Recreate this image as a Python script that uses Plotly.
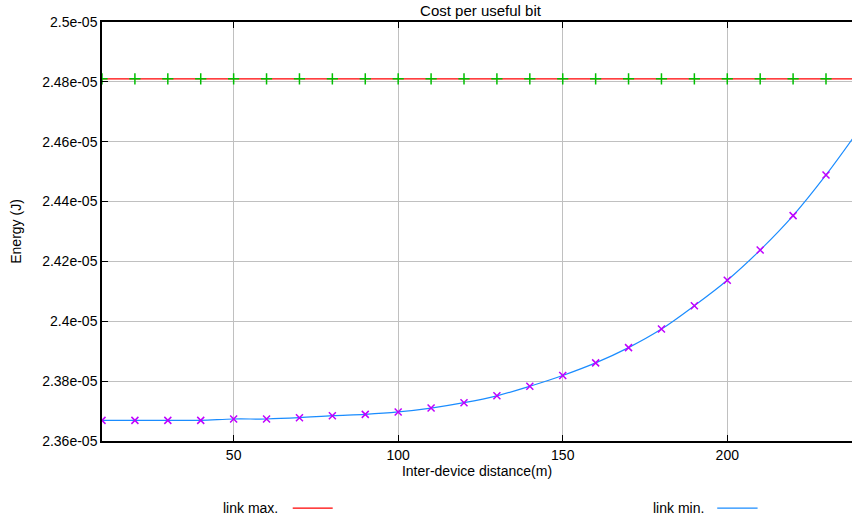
import plotly.graph_objects as go

# ---- data ----
distance = [10, 20, 30, 40, 50, 60, 70, 80, 90, 100, 110, 120, 130, 140, 150,
            160, 170, 180, 190, 200, 210, 220, 230, 240]
link_max = [2.4810e-05] * len(distance)
link_min = [2.3669e-05, 2.3669e-05, 2.3669e-05, 2.3669e-05, 2.36735e-05, 2.36735e-05,
            2.36778e-05, 2.36845e-05, 2.3689e-05, 2.3697e-05, 2.3710e-05, 2.3728e-05,
            2.3751e-05, 2.3783e-05, 2.3819e-05, 2.3861e-05, 2.3912e-05, 2.3974e-05,
            2.4052e-05, 2.4137e-05, 2.4238e-05, 2.4353e-05, 2.4489e-05, 2.4640e-05]
y_ticks = [2.36e-05, 2.38e-05, 2.40e-05, 2.42e-05, 2.44e-05, 2.46e-05, 2.48e-05, 2.50e-05]
y_tick_labels = ["2.36e-05", "2.38e-05", "2.4e-05", "2.42e-05", "2.44e-05",
                 "2.46e-05", "2.48e-05", "2.5e-05"]
x_ticks = [50, 100, 150, 200]
series_names = ["link max.", "link min."]

FONT = "Liberation Sans, Arial, Helvetica, sans-serif"
RED = "#ff0000"
GREEN = "#00c000"
BLUE = "#1a8cff"
MAGENTA = "#c000ff"

fig = go.Figure()
fig.add_trace(go.Scatter(x=distance, y=link_max, mode="lines",
                         line=dict(color=RED, width=1.2), showlegend=False))
fig.add_trace(go.Scatter(x=distance, y=link_max, mode="markers",
                         marker=dict(symbol="cross-thin", size=8,
                                     line=dict(color=GREEN, width=1.5)),
                         showlegend=False))
fig.add_trace(go.Scatter(x=distance, y=link_min, mode="lines",
                         line=dict(color=BLUE, width=1.2, shape="spline", smoothing=1),
                         showlegend=False))
fig.add_trace(go.Scatter(x=distance, y=link_min, mode="markers",
                         marker=dict(symbol="x-thin", size=7,
                                     line=dict(color=MAGENTA, width=1.5)),
                         showlegend=False))

# custom gnuplot-style key (text then line sample)
key = [(series_names[0], 0.2373, 0.2543, 0.3076, RED),
       (series_names[1], 0.8053, 0.8203, 0.8741, BLUE)]
for name, tx, lx0, lx1, col in key:
    fig.add_annotation(x=tx, y=-0.16, xref="paper", yref="paper", text=name,
                       showarrow=False, xanchor="right", yanchor="middle",
                       font=dict(family=FONT, size=14, color="#000"))
    fig.add_shape(type="line", xref="paper", yref="paper", x0=lx0, x1=lx1,
                  y0=-0.16, y1=-0.16, line=dict(color=col, width=1.2))

fig.update_layout(
    width=852, height=519,
    margin=dict(l=102, r=0, t=22, b=78, autoexpand=False),
    paper_bgcolor="white", plot_bgcolor="white",
    font=dict(family=FONT, size=14, color="#000"),
    title=dict(text="Cost per useful bit", x=0.5047, xref="paper", xanchor="center",
               y=1 - 11 / 519, yref="container", yanchor="middle", automargin=False,
               font=dict(family=FONT, size=15, color="#000")),
    showlegend=False,
)
fig.update_xaxes(range=[10, 237.9], tickvals=x_ticks, ticks="inside", ticklen=6,
                 tickcolor="#000", showgrid=True, gridcolor="#c0c0c0", gridwidth=1,
                 showline=True, linecolor="#000", linewidth=1.5, mirror="ticks",
                 zeroline=False, automargin=False,
                 title=dict(text="Inter-device distance(m)", standoff=2,
                            font=dict(family=FONT, size=14)))
fig.update_yaxes(range=[2.36e-05, 2.50e-05], tickvals=y_ticks, ticktext=y_tick_labels,
                 ticks="inside", ticklen=6, tickcolor="#000",
                 showgrid=True, gridcolor="#c0c0c0", gridwidth=1,
                 showline=True, linecolor="#000", linewidth=1.5, mirror=False,
                 zeroline=False, automargin=False,
                 title=dict(text="Energy (J)", standoff=17,
                            font=dict(family=FONT, size=14)))

fig.write_html("out.html",
               config={"displayModeBar": False},
               post_script="document.body.style.margin='0';"
                           "document.body.style.overflow='hidden';")
